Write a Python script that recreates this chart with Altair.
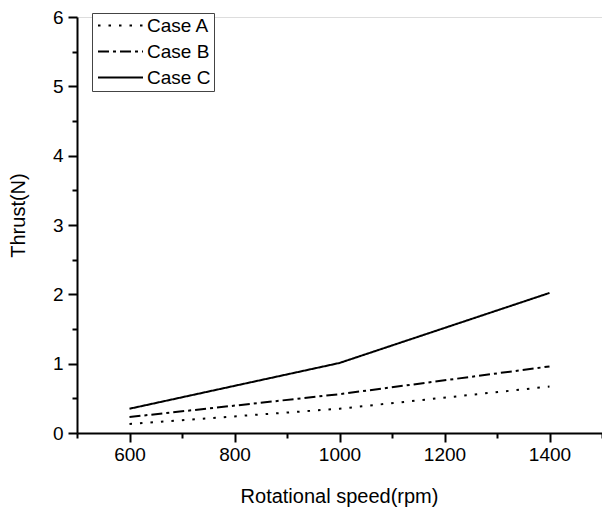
import altair as alt
import pandas as pd

speeds = [600, 1000, 1400]
case_a = [0.13, 0.35, 0.67]
case_b = [0.23, 0.56, 0.96]
case_c = [0.35, 1.01, 2.02]
series_names = ["Case A", "Case B", "Case C"]

rows = []
for name, vals in zip(series_names, [case_a, case_b, case_c]):
    for s, v in zip(speeds, vals):
        rows.append({"speed": s, "thrust": v, "case": name})
df = pd.DataFrame(rows)

x_ticks = list(range(500, 1501, 100))
y_ticks = [i * 0.5 for i in range(0, 13)]

FONT = "Liberation Sans"

chart = alt.Chart(df).mark_line(strokeWidth=2, color="black", strokeCap="butt").encode(
    x=alt.X(
        "speed:Q",
        scale=alt.Scale(domain=[500, 1500], nice=False, zero=False),
        axis=alt.Axis(
            title="Rotational speed(rpm)",
            values=x_ticks,
            labelExpr="datum.value % 200 === 0 && datum.value >= 600 && datum.value <= 1400 ? format(datum.value, 'd') : ''",
            grid=False,
            domainColor="black",
            domainWidth=2,
            tickColor="black",
            tickWidth=2,
            tickSize={"condition": {"test": "datum.value % 200 === 0", "value": 9}, "value": 5},
            labelPadding=3,
            labelFontSize=19,
            labelFont=FONT,
            labelColor="black",
            titleFontSize=20,
            titleFont=FONT,
            titleFontWeight="normal",
            titleColor="black",
            titleBaseline="alphabetic",
            titleX=262,
            titleY=69,
        ),
    ),
    y=alt.Y(
        "thrust:Q",
        scale=alt.Scale(domain=[0, 6], nice=False),
        axis=alt.Axis(
            title="Thrust(N)",
            values=y_ticks,
            labelExpr="datum.value % 1 === 0 ? format(datum.value, 'd') : ''",
            grid=False,
            domainColor="black",
            domainWidth=2,
            tickColor="black",
            tickWidth=2,
            tickSize={"condition": {"test": "datum.value % 1 === 0", "value": 9}, "value": 5},
            labelPadding=5,
            labelFontSize=19,
            labelFont=FONT,
            labelColor="black",
            titleFontSize=20,
            titleFont=FONT,
            titleFontWeight="normal",
            titleColor="black",
            titleAngle=-90,
            titleAlign="center",
            titleBaseline="middle",
            titleX=-59,
            titleY=198,
        ),
    ),
    strokeDash=alt.StrokeDash(
        "case:N",
        scale=alt.Scale(domain=series_names, range=[[2.5, 8], [11, 4, 3, 4], [1, 0]]),
        legend=alt.Legend(
            title=None,
            orient="none",
            legendX=15,
            legendY=-4,
            symbolType="stroke",
            symbolSize=2025,
            symbolStrokeWidth=2,
            symbolStrokeColor="black",
            symbolOffset=2,
            clipHeight=19,
            labelFontSize=19,
            labelFont=FONT,
            labelColor="black",
            labelOffset=3,
            rowPadding=6,
            padding=3,
            strokeColor="#444",
            fillColor="white",
        ),
    ),
).properties(
    width=525,
    height=416,
    padding={"left": 77, "top": 17, "right": 0, "bottom": 76},
    autosize=alt.AutoSizeParams(type="none"),
).configure_view(stroke=None).configure(background="white")

chart.save("out.html", embed_options={"renderer": "svg", "actions": False})
